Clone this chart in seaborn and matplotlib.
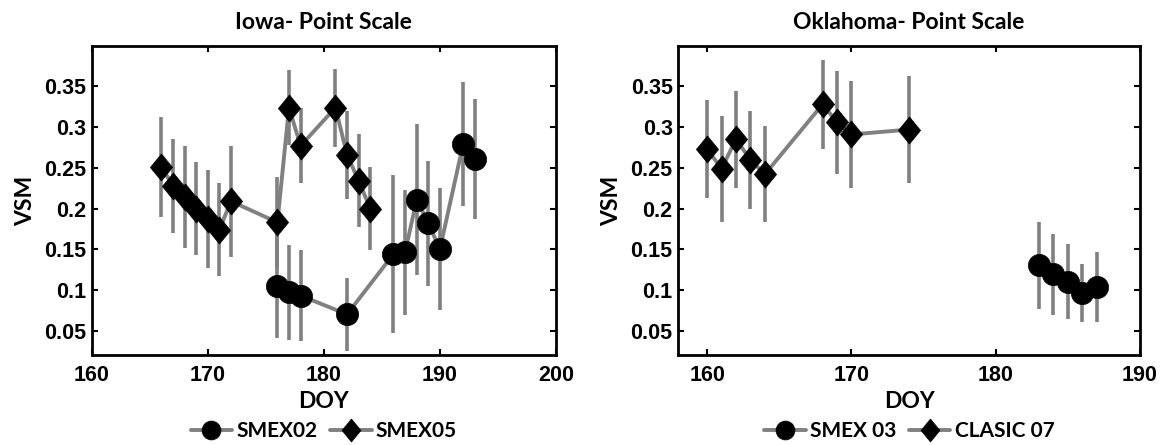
import matplotlib
matplotlib.use("Agg")
import matplotlib.pyplot as plt
import seaborn as sns
import pandas as pd

# Iowa - point scale
iowa_smex02_doy = [176, 177, 178, 182, 186, 187, 188, 189, 190, 192, 193]
iowa_smex02_vsm = [0.105, 0.097, 0.093, 0.070, 0.144, 0.146, 0.211, 0.182, 0.150, 0.279, 0.261]
iowa_smex02_err = [0.064, 0.058, 0.056, 0.045, 0.097, 0.077, 0.093, 0.077, 0.075, 0.076, 0.074]

iowa_smex05_doy = [166, 167, 168, 169, 170, 171, 172, 176, 177, 178, 181, 182, 183, 184]
iowa_smex05_vsm = [0.251, 0.228, 0.214, 0.200, 0.187, 0.174, 0.209, 0.183, 0.324, 0.277, 0.324, 0.266, 0.234, 0.200]
iowa_smex05_err = [0.061, 0.058, 0.063, 0.057, 0.060, 0.057, 0.068, 0.056, 0.046, 0.046, 0.048, 0.054, 0.057, 0.051]

# Oklahoma - point scale
okla_smex03_doy = [183, 184, 185, 186, 187]
okla_smex03_vsm = [0.130, 0.119, 0.110, 0.096, 0.104]
okla_smex03_err = [0.053, 0.050, 0.046, 0.036, 0.043]

okla_clasic07_doy = [160, 161, 162, 163, 164, 168, 169, 170, 174]
okla_clasic07_vsm = [0.273, 0.249, 0.285, 0.260, 0.242, 0.328, 0.306, 0.291, 0.297]
okla_clasic07_err = [0.060, 0.065, 0.060, 0.060, 0.059, 0.055, 0.063, 0.066, 0.066]

y_ticks = [0.05, 0.10, 0.15, 0.20, 0.25, 0.30, 0.35]
y_tick_labels = ["0.05", "0.1", "0.15", "0.2", "0.25", "0.3", "0.35"]
iowa_x_ticks = [160, 170, 180, 190, 200]
okla_x_ticks = [160, 170, 180, 190]

sns.set_theme(style="white")
plt.rcParams["font.family"] = ["Lato", "DejaVu Sans"]

LINE_GRAY = "#808080"
TEXT_FONT = ["Lato", "DejaVu Sans"]
TICK_FONT = ["Liberation Sans", "DejaVu Sans"]

# tall diamond like the classic MATLAB 'd' marker
diamond = [(0, 1), (0.82, 0), (0, -1), (-0.82, 0), (0, 1)]

fig = plt.figure(figsize=(11.68, 4.45), dpi=100)
ax_l = fig.add_axes([0.0785, 0.2022, 0.3975, 0.695])
ax_r = fig.add_axes([0.5807, 0.2022, 0.3953, 0.695])


def draw_series(ax, doy, vsm, err, label, marker, ms):
    df = pd.DataFrame({"DOY": doy, "VSM": vsm})
    ax.errorbar(doy, vsm, yerr=err, fmt="none", ecolor=LINE_GRAY,
                elinewidth=2.6, capsize=0, zorder=2)
    sns.lineplot(data=df, x="DOY", y="VSM", ax=ax, color=LINE_GRAY,
                 linewidth=2.8, marker=marker, markersize=ms,
                 markerfacecolor="black", markeredgecolor="black",
                 markeredgewidth=0.5, label=label, zorder=3, sort=False)


def style_axes(ax, title, xlim, xticks):
    ax.set_xlim(*xlim)
    ax.set_ylim(0.02, 0.40)
    ax.set_xticks(xticks)
    ax.set_xticklabels([str(t) for t in xticks])
    ax.set_yticks(y_ticks)
    ax.set_yticklabels(y_tick_labels)
    for lab in ax.get_xticklabels() + ax.get_yticklabels():
        lab.set_fontfamily(TICK_FONT)
        lab.set_fontweight("bold")
        lab.set_fontsize(15.5)
        lab.set_color("black")
    ax.tick_params(direction="in", length=4, width=1.5, color="black",
                   top=True, right=True, bottom=True, left=True)
    ax.tick_params(axis="x", pad=7)
    ax.tick_params(axis="y", pad=4)
    for sp in ax.spines.values():
        sp.set_visible(True)
        sp.set_color("black")
        sp.set_linewidth(2.0)
    ax.set_title(title, fontfamily=TEXT_FONT, fontweight="bold",
                 fontsize=16.5, pad=12, color="black")
    ax.set_xlabel("DOY", fontfamily=TEXT_FONT, fontweight="bold",
                  fontsize=16.5, labelpad=4, color="black")
    ax.set_ylabel("VSM", fontfamily=TEXT_FONT, fontweight="bold",
                  fontsize=16.5, labelpad=6, color="black")
    ax.grid(False)
    ax.set_facecolor("white")
    leg = ax.legend(loc="center", bbox_to_anchor=(0.5, -0.245), ncol=2,
                    frameon=False, handlelength=2.0, handletextpad=0.2,
                    columnspacing=0.6, borderaxespad=0, markerscale=0.85,
                    prop={"family": TEXT_FONT, "weight": "bold", "size": 15})
    for t in leg.get_texts():
        t.set_color("black")


draw_series(ax_l, iowa_smex02_doy, iowa_smex02_vsm, iowa_smex02_err,
            "SMEX02", "o", 16)
draw_series(ax_l, iowa_smex05_doy, iowa_smex05_vsm, iowa_smex05_err,
            "SMEX05", diamond, 19.5)
style_axes(ax_l, "Iowa- Point Scale", (160, 200), iowa_x_ticks)

draw_series(ax_r, okla_smex03_doy, okla_smex03_vsm, okla_smex03_err,
            "SMEX 03", "o", 16)
draw_series(ax_r, okla_clasic07_doy, okla_clasic07_vsm, okla_clasic07_err,
            "CLASIC 07", diamond, 19.5)
style_axes(ax_r, "Oklahoma- Point Scale", (158, 190), okla_x_ticks)

fig.savefig("out.png", dpi=100, facecolor="white")
